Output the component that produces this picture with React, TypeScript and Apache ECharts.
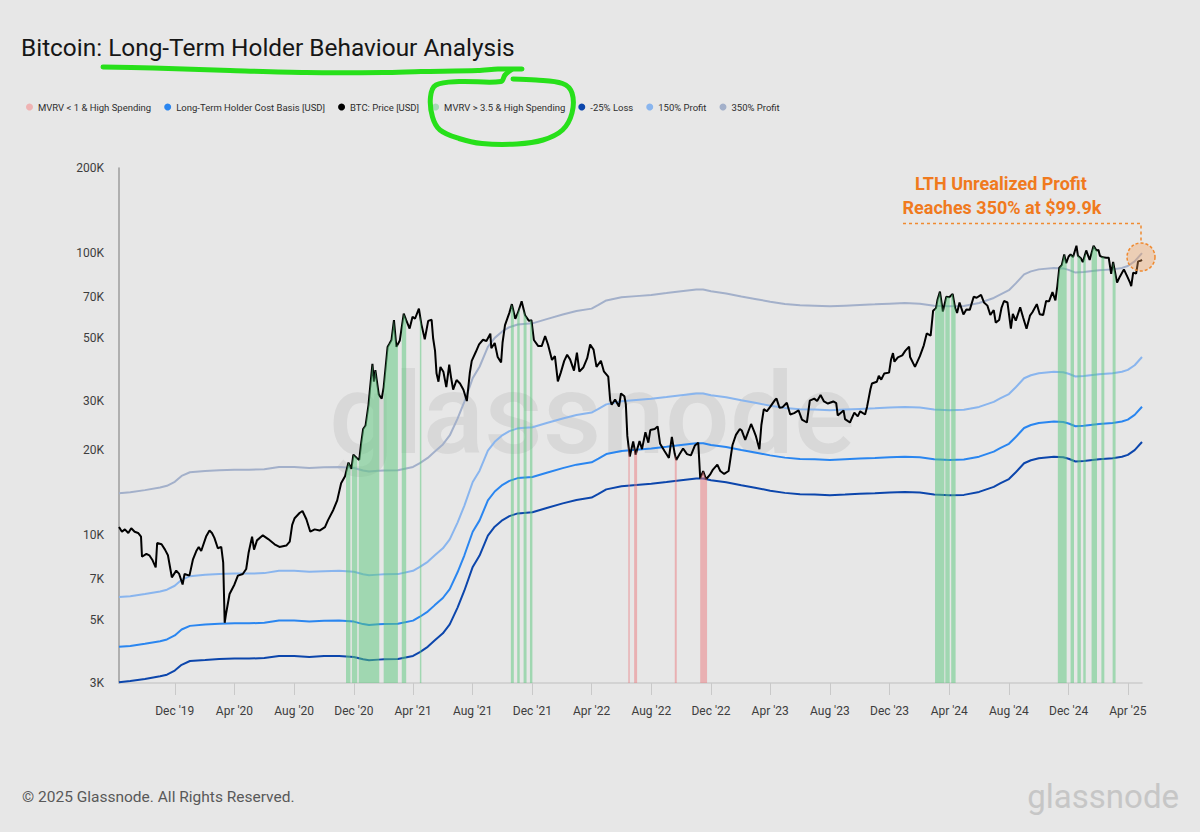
import React, { useEffect, useRef } from 'react';
import * as echarts from 'echarts';

// ---------- DATA ----------
const priceDates = [
  '2019-08-09','2019-08-15','2019-08-21','2019-08-28','2019-09-03','2019-09-10','2019-09-17','2019-09-23','2019-09-25','2019-10-04',
  '2019-10-10','2019-10-16','2019-10-23','2019-10-26','2019-11-04','2019-11-11','2019-11-17','2019-11-22','2019-11-25','2019-12-04',
  '2019-12-10','2019-12-17','2019-12-21','2019-12-31','2020-01-07','2020-01-14','2020-01-19','2020-01-24','2020-02-03','2020-02-10',
  '2020-02-15','2020-02-20','2020-02-27','2020-03-05','2020-03-09','2020-03-12','2020-03-15','2020-03-22','2020-04-01','2020-04-08',
  '2020-04-18','2020-04-25','2020-04-30','2020-05-07','2020-05-11','2020-05-17','2020-05-29','2020-06-09','2020-06-22','2020-07-02',
  '2020-07-16','2020-07-23','2020-07-28','2020-08-02','2020-08-12','2020-08-18','2020-08-26','2020-09-03','2020-09-12','2020-09-22',
  '2020-10-03','2020-10-09','2020-10-20','2020-10-28','2020-11-05','2020-11-13','2020-11-20','2020-11-26','2020-11-30','2020-12-07',
  '2020-12-12','2020-12-16','2020-12-20','2020-12-25','2020-12-31','2021-01-03','2021-01-08','2021-01-11','2021-01-14','2021-01-21',
  '2021-01-27','2021-01-31','2021-02-08','2021-02-12','2021-02-16','2021-02-21','2021-02-26','2021-03-05','2021-03-13','2021-03-18',
  '2021-03-25','2021-03-31','2021-04-05','2021-04-13','2021-04-18','2021-04-25','2021-05-02','2021-05-09','2021-05-12','2021-05-16',
  '2021-05-19','2021-05-23','2021-05-27','2021-06-02','2021-06-08','2021-06-14','2021-06-18','2021-06-22','2021-06-29','2021-07-06',
  '2021-07-13','2021-07-20','2021-07-26','2021-07-30','2021-08-07','2021-08-14','2021-08-22','2021-08-29','2021-09-06','2021-09-08',
  '2021-09-15','2021-09-21','2021-09-28','2021-10-01','2021-10-06','2021-10-15','2021-10-20','2021-10-27','2021-11-01','2021-11-09',
  '2021-11-16','2021-11-24','2021-11-29','2021-12-04','2021-12-13','2021-12-20','2021-12-27','2022-01-02','2022-01-10','2022-01-16',
  '2022-01-22','2022-01-28','2022-02-04','2022-02-10','2022-02-16','2022-02-24','2022-03-02','2022-03-07','2022-03-15','2022-03-23',
  '2022-03-29','2022-04-05','2022-04-11','2022-04-20','2022-04-26','2022-05-05','2022-05-09','2022-05-12','2022-05-19','2022-05-27',
  '2022-05-31','2022-06-07','2022-06-10','2022-06-13','2022-06-18','2022-06-25','2022-06-30','2022-07-08','2022-07-13','2022-07-20',
  '2022-07-26','2022-07-30','2022-08-08','2022-08-14','2022-08-19','2022-08-28','2022-09-06','2022-09-12','2022-09-18','2022-09-21',
  '2022-09-28','2022-10-05','2022-10-13','2022-10-21','2022-10-29','2022-11-05','2022-11-09','2022-11-15','2022-11-21','2022-11-29',
  '2022-12-05','2022-12-14','2022-12-20','2022-12-28','2023-01-06','2023-01-14','2023-01-21','2023-01-29','2023-02-02','2023-02-09',
  '2023-02-21','2023-02-27','2023-03-03','2023-03-10','2023-03-14','2023-03-19','2023-03-25','2023-04-01','2023-04-11','2023-04-14',
  '2023-04-20','2023-04-26','2023-05-05','2023-05-12','2023-05-20','2023-05-29','2023-06-05','2023-06-15','2023-06-21','2023-06-30',
  '2023-07-06','2023-07-13','2023-07-20','2023-07-28','2023-08-08','2023-08-14','2023-08-17','2023-08-29','2023-09-01','2023-09-11',
  '2023-09-20','2023-09-27','2023-10-02','2023-10-12','2023-10-16','2023-10-23','2023-10-26','2023-11-05','2023-11-09','2023-11-14',
  '2023-11-20','2023-11-30','2023-12-04','2023-12-08','2023-12-11','2023-12-18','2023-12-27','2024-01-02','2024-01-10','2024-01-12',
  '2024-01-22','2024-02-01','2024-02-09','2024-02-15','2024-02-23','2024-02-28','2024-03-05','2024-03-08','2024-03-13','2024-03-19',
  '2024-03-26','2024-04-01','2024-04-08','2024-04-13','2024-04-17','2024-04-22','2024-04-30','2024-05-06','2024-05-13','2024-05-21',
  '2024-05-27','2024-06-05','2024-06-11','2024-06-18','2024-06-24','2024-07-01','2024-07-05','2024-07-12','2024-07-17','2024-07-22',
  '2024-07-29','2024-08-05','2024-08-09','2024-08-15','2024-08-24','2024-08-30','2024-09-06','2024-09-13','2024-09-18','2024-09-27',
  '2024-10-03','2024-10-10','2024-10-16','2024-10-22','2024-10-29','2024-11-04','2024-11-08','2024-11-12','2024-11-17','2024-11-22',
  '2024-11-26','2024-12-01','2024-12-05','2024-12-10','2024-12-17','2024-12-20','2024-12-26','2024-12-30','2025-01-06','2025-01-13',
  '2025-01-21','2025-01-27','2025-01-31','2025-02-03','2025-02-09','2025-02-16','2025-02-21','2025-02-26','2025-03-02','2025-03-10',
  '2025-03-16','2025-03-24','2025-03-31','2025-04-06','2025-04-08','2025-04-12','2025-04-18','2025-04-22','2025-04-27','2025-04-30'
];
const priceValues = [
  10700,10300,10500,10200,10600,10300,10200,9900,8400,8600,
  8500,8200,7700,9400,9300,8900,8500,7600,7100,7500,
  7300,6700,7300,7200,8200,8800,9100,8800,9900,10400,
  10200,9800,9000,9100,8000,4900,5300,6200,6700,7200,
  7300,7600,8700,9900,8900,9600,10000,9700,9300,9100,
  9200,9500,10900,11500,12000,12200,11400,10300,10500,10400,
  10700,11300,12300,13300,15300,16200,18100,17200,19300,18800,
  18500,21200,23800,24500,29000,33000,40500,35000,38500,31500,
  30500,33500,46500,47800,49200,57900,46500,49000,61000,57800,
  54000,59500,58500,63500,56000,49500,57500,58000,50000,45000,
  37500,35000,39500,38000,33500,40200,36000,32800,35500,34500,
  32800,29900,37500,41500,44500,47500,49300,48800,51800,46000,
  48000,42800,41000,48200,55500,61500,65900,58500,61200,67500,
  60200,57500,57800,49200,46800,46800,50800,47300,41800,43100,
  35100,37700,41500,43600,42000,38300,44400,38000,39300,42400,
  47400,45500,39500,41500,38100,36500,30100,29000,30300,28600,
  31800,31100,29100,22500,19000,21500,19300,21600,20200,23200,
  21300,23600,23800,24300,21100,19900,18800,22300,19400,18500,
  19400,20300,19400,19200,20800,21300,15900,16900,15800,16400,
  17100,17800,16900,16500,16900,20900,22700,23800,23500,21800,
  24800,23400,22400,20200,24600,28000,27500,28500,30200,30500,
  28300,28400,29500,26800,27100,27700,25700,25100,30000,30500,
  29900,31400,29800,29300,29800,29400,26600,27700,25800,25100,
  27200,26400,27500,26800,28500,33000,34500,35000,36700,35600,
  37400,37700,41900,44200,41200,42700,43400,45000,46600,42800,
  39500,43100,47100,51900,51000,62400,63800,68300,73000,62000,
  70000,69700,71600,63900,61300,66800,60600,63100,62900,70000,
  69400,71100,66800,65100,60300,62800,56700,57900,64100,67600,
  66800,54000,60900,57600,64200,59100,53900,60000,61700,65900,
  60700,60300,67600,67400,72700,68000,76500,88700,90600,98900,
  92000,97200,98800,96700,106100,97800,95800,92800,102100,94500,
  106100,102000,102400,97700,96500,96200,96200,84400,93000,78500,
  82600,87500,82500,78200,76300,85200,84500,93400,93800,94600
];

const bandDates = [
  '2019-08-09','2019-09-01','2019-10-01','2019-11-01','2019-11-15','2019-12-01','2019-12-15','2020-01-01','2020-02-01','2020-03-01',
  '2020-04-01','2020-05-01','2020-06-01','2020-07-01','2020-08-01','2020-09-01','2020-10-01','2020-11-01','2020-12-01','2020-12-20',
  '2021-01-01','2021-01-20','2021-02-01','2021-03-01','2021-04-01','2021-04-15','2021-05-01','2021-05-15','2021-06-01','2021-06-15',
  '2021-07-01','2021-07-15','2021-08-01','2021-08-15','2021-09-01','2021-09-15','2021-10-01','2021-10-15','2021-11-01','2021-12-01',
  '2022-01-01','2022-02-01','2022-03-01','2022-04-01','2022-04-15','2022-05-01','2022-06-01','2022-07-01','2022-08-01','2022-09-01',
  '2022-10-01','2022-11-01','2022-11-15','2022-12-01','2023-01-01','2023-02-01','2023-03-01','2023-04-01','2023-05-01','2023-06-01',
  '2023-07-01','2023-08-01','2023-09-01','2023-10-01','2023-11-01','2023-12-01','2024-01-01','2024-02-01','2024-03-01','2024-04-01',
  '2024-05-01','2024-06-01','2024-07-01','2024-07-15','2024-08-01','2024-08-15','2024-09-01','2024-09-15','2024-10-01','2024-11-01',
  '2024-11-20','2024-12-01','2024-12-15','2025-01-01','2025-02-01','2025-03-01','2025-03-20','2025-04-01','2025-04-15','2025-04-30'
];
const costBasis = [
  4030,4060,4130,4220,4280,4420,4640,4780,4830,4860,
  4880,4880,4900,4990,4990,4950,4980,4990,4950,4850,
  4810,4840,4850,4860,4990,5150,5370,5650,6000,6450,
  7400,8500,10300,11300,13300,14300,15100,15600,15950,16100,
  16700,17300,17800,18150,18700,19400,19900,20100,20300,20600,
  20900,21200,21200,20900,20550,20050,19650,19200,18850,18650,
  18600,18500,18600,18700,18800,18900,19000,18900,18600,18500,
  18550,19000,19800,20400,21100,22300,24000,24600,25000,25300,
  25200,24900,24350,24450,24800,25000,25300,25700,26700,28540
];
const loss25 = [
  3020,3050,3100,3170,3210,3320,3480,3590,3620,3650,
  3660,3660,3680,3740,3740,3710,3740,3740,3710,3640,
  3610,3630,3640,3650,3740,3860,4030,4240,4500,4840,
  5550,6380,7730,8480,9980,10730,11330,11700,11960,12080,
  12530,12980,13350,13610,14030,14550,14930,15080,15230,15450,
  15680,15900,15900,15680,15410,15040,14740,14400,14140,13990,
  13950,13880,13950,14030,14100,14180,14250,14180,13950,13880,
  13910,14250,14850,15300,15830,16730,18000,18450,18750,18980,
  18900,18680,18260,18340,18600,18750,18980,19280,20030,21410
];
const profit150 = [
  6050,6090,6200,6330,6420,6630,6960,7170,7250,7290,
  7320,7320,7350,7490,7490,7430,7470,7490,7430,7280,
  7220,7260,7280,7290,7490,7730,8060,8480,9000,9680,
  11100,12750,15450,16950,19950,21450,22650,23400,23930,24150,
  25050,25950,26700,27230,28050,29100,29850,30150,30450,30900,
  31350,31800,31800,31350,30830,30080,29480,28800,28280,27980,
  27900,27750,27900,28050,28200,28350,28500,28350,27900,27750,
  27830,28500,29700,30600,31650,33450,36000,36900,37500,37950,
  37800,37350,36530,36680,37200,37500,37950,38550,40050,42810
];
const profit350 = [
  14100,14210,14460,14770,14980,15470,16240,16730,16910,17010,
  17080,17080,17150,17470,17470,17330,17430,17470,17330,16980,
  16840,16940,16980,17010,17470,18030,18800,19780,21000,22580,
  25900,29750,36050,39550,46550,50050,52850,54600,55830,56350,
  58450,60550,62300,63530,65450,67900,69650,70350,71050,72100,
  73150,74200,74200,73150,71930,70180,68780,67200,65980,65280,
  65100,64750,65100,65450,65800,66150,66500,66150,65100,64750,
  64930,66500,69300,71400,73850,78050,84000,86100,87500,88550,
  88200,87150,85230,85580,86800,87500,88550,89950,93450,99890
];

const highMvrvStart = [
  '2020-11-15','2020-11-27','2020-12-11','2021-01-31','2021-03-09','2021-04-15','2021-10-18','2021-10-31','2021-11-13','2021-11-26',
  '2024-03-03','2024-03-24','2024-04-05','2024-11-09','2024-12-05','2024-12-19','2024-12-31','2025-01-17','2025-02-06','2025-03-01'
];
const highMvrvEnd = [
  '2020-11-24','2020-12-08','2021-01-22','2021-03-01','2021-03-18','2021-04-18','2021-10-24','2021-11-05','2021-11-19','2021-12-01',
  '2024-03-22','2024-04-02','2024-04-14','2024-11-27','2024-12-12','2024-12-26','2025-01-05','2025-01-28','2025-02-12','2025-03-07'
];
const lowMvrvStart = ['2022-06-15','2022-06-27','2022-09-18','2022-11-09'];
const lowMvrvEnd = ['2022-06-18','2022-07-03','2022-09-22','2022-11-23'];

const xTickDates = [
  '2019-12-01','2020-04-01','2020-08-01','2020-12-01','2021-04-01','2021-08-01','2021-12-01','2022-04-01','2022-08-01',
  '2022-12-01','2023-04-01','2023-08-01','2023-12-01','2024-04-01','2024-08-01','2024-12-01','2025-04-01'
];
const yTickValues = [3000, 5000, 7000, 10000, 20000, 30000, 50000, 70000, 100000, 200000];
const MONTHS = ['Jan','Feb','Mar','Apr','May','Jun','Jul','Aug','Sep','Oct','Nov','Dec'];

const X_MIN = '2019-08-09';
const X_MAX = '2025-04-30';
const Y_MIN = 3000;
const Y_MAX = 200000;

// ---------- helpers ----------
function ts(s: string): number {
  const [y, m, d] = s.split('-').map(Number);
  return new Date(y, m - 1, d).getTime();
}
const lg = (v: number) => Math.log10(v);

export default function App() {
  const ref = useRef<HTMLDivElement>(null);

  useEffect(() => {
    document.body.style.margin = '0';
    const chart = echarts.init(ref.current!, null, { renderer: 'svg' });

    const priceT = priceDates.map(ts);
    const priceL = priceValues.map(lg);
    const yMin = lg(Y_MIN);
    const yMax = lg(Y_MAX);

    const priceAt = (t: number): number => {
      if (t <= priceT[0]) return priceL[0];
      for (let i = 1; i < priceT.length; i++) {
        if (t <= priceT[i]) {
          const f = (t - priceT[i - 1]) / (priceT[i] - priceT[i - 1]);
          return priceL[i - 1] + f * (priceL[i] - priceL[i - 1]);
        }
      }
      return priceL[priceL.length - 1];
    };

    const stripeRender = (fill: string) => (params: any, api: any) => {
      const t0 = api.value(0);
      const t1 = api.value(1);
      const pts: number[][] = [];
      pts.push(api.coord([t0, yMin]));
      pts.push(api.coord([t0, priceAt(t0)]));
      for (let i = 0; i < priceT.length; i++) {
        if (priceT[i] > t0 && priceT[i] < t1) pts.push(api.coord([priceT[i], priceL[i]]));
      }
      pts.push(api.coord([t1, priceAt(t1)]));
      pts.push(api.coord([t1, yMin]));
      return { type: 'polygon', shape: { points: pts }, style: { fill } };
    };

    const lineData = (dates: string[], vals: number[]) => dates.map((d, i) => [ts(d), lg(vals[i])]);
    const stripeData = (s: string[], e: string[]) => s.map((d, i) => [ts(d), ts(e[i]), yMin]);

    const mkLine = (name: string, data: any[], color: string, width: number, z: number) => ({
      name,
      type: 'line',
      data,
      showSymbol: false,
      symbol: 'none',
      lineStyle: { color, width },
      itemStyle: { color },
      emphasis: { disabled: true },
      z,
    });

    const green = '#27e01a';

    chart.setOption({
      animation: false,
      backgroundColor: '#e7e7e7',
      textStyle: { fontFamily: 'Roboto' },
      title: {
        text: 'Bitcoin: Long-Term Holder Behaviour Analysis',
        left: 16,
        top: 30,
        textStyle: { fontSize: 24.4, fontWeight: 'normal', color: '#161616', fontFamily: 'Roboto' },
      },
      legend: {
        left: 21,
        top: 97,
        icon: 'circle',
        itemWidth: 7,
        itemHeight: 7,
        itemGap: 13,
        selectedMode: false,
        textStyle: { fontSize: 9.5, color: '#2e2e2e', fontFamily: 'Roboto' },
        data: [
          'MVRV < 1 & High Spending',
          'Long-Term Holder Cost Basis [USD]',
          'BTC: Price [USD]',
          'MVRV > 3.5 & High Spending',
          '-25% Loss',
          '150% Profit',
          '350% Profit',
        ],
      },
      grid: { left: 119, right: 58, top: 168, bottom: 149 },
      xAxis: {
        type: 'value',
        min: ts(X_MIN),
        max: ts(X_MAX),
        splitLine: { show: false },
        axisLine: { show: true, lineStyle: { color: '#cdcdcd', width: 1.5 } },
        axisTick: {
          show: true,
          customValues: xTickDates.map(ts),
          length: 12,
          lineStyle: { color: '#c9c9c9', width: 1 },
        },
        axisLabel: {
          customValues: xTickDates.map(ts),
          formatter: (v: number) => {
            const d = new Date(v);
            return `${MONTHS[d.getMonth()]} '${String(d.getFullYear()).slice(2)}`;
          },
          color: '#3d3d3d',
          fontSize: 12,
          margin: 22,
          fontFamily: 'Roboto',
        },
      },
      yAxis: {
        type: 'value',
        min: yMin,
        max: yMax,
        splitLine: { show: false },
        axisLine: { show: true, lineStyle: { color: '#9c9c9c', width: 1.5 } },
        axisTick: { show: false },
        axisLabel: {
          customValues: yTickValues.map(lg),
          formatter: (v: number) => `${Math.round(Math.pow(10, v) / 1000)}K`,
          color: '#3d3d3d',
          fontSize: 12,
          margin: 15,
          fontFamily: 'Roboto',
        },
      },
      graphic: [
        {
          type: 'text',
          z: 0,
          silent: true,
          style: {
            text: 'glassnode',
            x: 592,
            y: 414,
            align: 'center',
            verticalAlign: 'middle',
            textAlign: 'center',
            textVerticalAlign: 'middle',
            font: '500 114px Roboto',
            fill: '#d8d8d8',
          },
        },
        {
          type: 'text',
          z: 10,
          style: {
            text: '© 2025 Glassnode. All Rights Reserved.',
            x: 22,
            y: 797,
            align: 'left',
            verticalAlign: 'middle',
            textAlign: 'left',
            textVerticalAlign: 'middle',
            font: '15.5px Roboto',
            fill: '#595959',
          },
        },
        {
          type: 'text',
          z: 10,
          style: {
            text: 'glassnode',
            x: 1179,
            y: 796,
            align: 'right',
            verticalAlign: 'middle',
            textAlign: 'right',
            textVerticalAlign: 'middle',
            font: '33px Roboto',
            fill: '#c6c6c6',
          },
        },
        {
          type: 'text',
          z: 10,
          style: {
            text: 'LTH Unrealized Profit',
            x: 1001,
            y: 183,
            align: 'center',
            verticalAlign: 'middle',
            textAlign: 'center',
            textVerticalAlign: 'middle',
            font: 'bold 18px Roboto',
            fill: '#f07a1e',
          },
        },
        {
          type: 'text',
          z: 10,
          style: {
            text: 'Reaches 350% at $99.9k',
            x: 1002,
            y: 207,
            align: 'center',
            verticalAlign: 'middle',
            textAlign: 'center',
            textVerticalAlign: 'middle',
            font: 'bold 18px Roboto',
            fill: '#f07a1e',
          },
        },
        {
          type: 'polyline',
          z: 10,
          shape: { points: [[903, 223.5], [1141, 223.5], [1141, 243]] },
          style: { stroke: '#f08a30', lineWidth: 1.5, lineDash: [3, 3], fill: 'none' },
        },
        {
          type: 'circle',
          z: 10,
          shape: { cx: 1141, cy: 257, r: 14 },
          style: { fill: 'rgba(245,160,90,0.35)', stroke: '#f08a30', lineWidth: 1.5, lineDash: [3, 2] },
        },
        {
          type: 'polyline',
          z: 20,
          shape: {
            points: [[103, 67], [153, 68], [230, 70.5], [306, 72.5], [383, 72.5], [421, 71.5], [478, 70.5], [498, 69], [522, 69]],
            smooth: 0.3,
          },
          style: { stroke: green, lineWidth: 5, lineCap: 'round', lineJoin: 'round', fill: 'none' },
        },
        {
          type: 'polyline',
          z: 20,
          shape: {
            points: [
              [511, 70], [505, 75], [501, 81.5], [459, 81.5], [436, 85], [430.5, 97], [432.5, 117], [440, 130], [459, 138.5],
              [482, 143.5], [517, 144], [543, 140], [562.5, 130], [572, 113], [572, 93], [562.5, 83.5], [536, 80], [513, 79],
            ],
            smooth: 0.35,
          },
          style: { stroke: green, lineWidth: 5, lineCap: 'round', lineJoin: 'round', fill: 'none' },
        },
      ],
      series: [
        {
          name: 'MVRV < 1 & High Spending',
          type: 'custom',
          renderItem: stripeRender('rgba(236,121,125,0.5)'),
          data: stripeData(lowMvrvStart, lowMvrvEnd),
          encode: { x: [0, 1], y: 2 },
          itemStyle: { color: '#efb3b3' },
          clip: true,
          silent: true,
          z: 6,
        },
        mkLine('Long-Term Holder Cost Basis [USD]', lineData(bandDates, costBasis), '#2a86f0', 2, 3),
        mkLine('BTC: Price [USD]', lineData(priceDates, priceValues), '#000000', 2, 4),
        {
          name: 'MVRV > 3.5 & High Spending',
          type: 'custom',
          renderItem: stripeRender('rgba(89,199,123,0.5)'),
          data: stripeData(highMvrvStart, highMvrvEnd),
          encode: { x: [0, 1], y: 2 },
          itemStyle: { color: '#a6dab5' },
          clip: true,
          silent: true,
          z: 6,
        },
        mkLine('-25% Loss', lineData(bandDates, loss25), '#0c46ac', 2, 3),
        mkLine('150% Profit', lineData(bandDates, profit150), '#89b5ee', 2, 3),
        mkLine('350% Profit', lineData(bandDates, profit350), '#a3b0ca', 2, 3),
      ],
    });

    return () => {
      chart.dispose();
    };
  }, []);

  return (
    <div
      ref={ref}
      style={{ position: 'absolute', left: 0, top: 0, width: 1200, height: 832 }}
    />
  );
}
